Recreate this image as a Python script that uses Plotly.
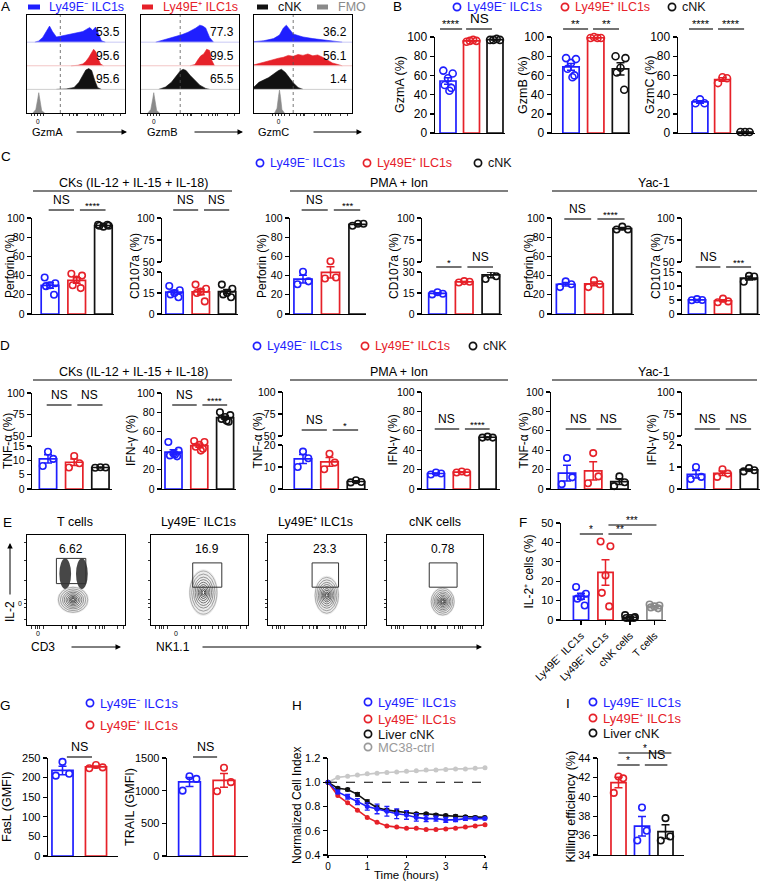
import numpy as np
import plotly.graph_objects as go

# ============================ DATA ============================
# Panel A: histogram outlines (x on display scale 0-1, relative height 0-1)
A1_blue_x = [0.08, 0.12, 0.16, 0.20, 0.23, 0.26, 0.30, 0.34, 0.40, 0.46, 0.52, 0.57, 0.61, 0.64, 0.67, 0.70, 0.73, 0.76, 0.80]
A1_blue_y = [0, 0.05, 0.20, 0.50, 0.68, 0.45, 0.22, 0.25, 0.30, 0.33, 0.40, 0.45, 0.55, 0.62, 0.50, 0.64, 0.35, 0.06, 0]
A1_red_x = [0.45, 0.52, 0.57, 0.60, 0.63, 0.66, 0.68, 0.70, 0.72, 0.75, 0.78]
A1_red_y = [0, 0.02, 0.08, 0.18, 0.35, 0.55, 0.70, 0.60, 0.35, 0.08, 0]
A1_black_x = [0.30, 0.40, 0.48, 0.53, 0.57, 0.60, 0.63, 0.66, 0.69, 0.72, 0.76]
A1_black_y = [0, 0.02, 0.08, 0.30, 0.60, 0.82, 0.88, 0.80, 0.40, 0.08, 0]
A1_fmo_x = [0.06, 0.09, 0.11, 0.12, 0.13, 0.15, 0.18]
A1_fmo_y = [0, 0.15, 0.60, 0.86, 0.60, 0.10, 0]

A2_blue_x = [0.15, 0.22, 0.30, 0.36, 0.42, 0.48, 0.52, 0.56, 0.60, 0.63, 0.66, 0.70, 0.74]
A2_blue_y = [0, 0.08, 0.15, 0.22, 0.32, 0.42, 0.50, 0.60, 0.72, 0.68, 0.60, 0.20, 0]
A2_red_x = [0.50, 0.55, 0.58, 0.61, 0.64, 0.67, 0.70, 0.72, 0.75]
A2_red_y = [0, 0.05, 0.25, 0.42, 0.50, 0.70, 0.65, 0.25, 0]
A2_black_x = [0.18, 0.25, 0.31, 0.36, 0.40, 0.43, 0.46, 0.50, 0.55, 0.60, 0.66, 0.70]
A2_black_y = [0, 0.10, 0.30, 0.55, 0.78, 0.85, 0.80, 0.60, 0.38, 0.18, 0.04, 0]
A2_fmo_x = [0.07, 0.10, 0.12, 0.13, 0.14, 0.16, 0.19]
A2_fmo_y = [0, 0.15, 0.60, 0.86, 0.60, 0.10, 0]

A3_blue_x = [0.0, 0.10, 0.20, 0.26, 0.30, 0.33, 0.36, 0.40, 0.45, 0.50, 0.60, 0.70, 0.80, 0.90]
A3_blue_y = [0.02, 0.06, 0.15, 0.30, 0.60, 0.72, 0.55, 0.35, 0.28, 0.22, 0.15, 0.10, 0.05, 0]
A3_red_x = [0.0, 0.10, 0.20, 0.25, 0.30, 0.35, 0.40, 0.45, 0.50, 0.55, 0.60, 0.65, 0.70, 0.75, 0.80, 0.90]
A3_red_y = [0.04, 0.15, 0.28, 0.32, 0.36, 0.44, 0.40, 0.48, 0.44, 0.50, 0.42, 0.46, 0.36, 0.25, 0.12, 0]
A3_black_x = [0.0, 0.05, 0.10, 0.15, 0.20, 0.25, 0.28, 0.32, 0.36, 0.40, 0.45, 0.50]
A3_black_y = [0.10, 0.30, 0.40, 0.50, 0.65, 0.80, 0.85, 0.72, 0.50, 0.28, 0.08, 0]
A3_fmo_x = [0.21, 0.235, 0.25, 0.26, 0.27, 0.285, 0.31]
A3_fmo_y = [0, 0.20, 0.70, 0.97, 0.70, 0.15, 0]

A_markers = ["GzmA", "GzmB", "GzmC"]
A_pct_1 = ["53.5", "95.6", "95.6"]
A_pct_2 = ["77.3", "99.5", "65.5"]
A_pct_3 = ["36.2", "56.1", "1.4"]
A_gate = [0.34, 0.40, 0.40]
A_zero = [0.11, 0.13, 0.25]

GROUPS = ["Ly49E⁻ ILC1s", "Ly49E⁺ ILC1s", "cNK"]

# Panel B (% positive)
gzmA = [[65, 62, 57, 50, 47, 44], [95, 96, 97, 96], [97, 97, 98, 97]]
gzmB = [[78, 77, 73, 67, 60, 58], [99, 100, 99, 99], [80, 78, 68, 63, 45]]
gzmC = [[35, 31, 31], [58, 57, 52], [1, 1, 1]]

# Panel C
perf_ck = [[38, 32, 30, 29, 20], [42, 40, 36, 30, 27], [93, 92, 91, 92, 93]]
cd107_ck = [[20, 17, 15, 14, 12], [21, 18, 16, 15, 9], [21, 18, 15, 14, 12]]
perf_pma = [[44, 34, 31], [55, 38, 37], [94, 94, 92]]
cd107_pma = [[15.5, 14.5, 14], [23.5, 23, 22.5], [32, 27, 25]]
perf_yac = [[34, 31, 28], [35, 31, 28], [91, 88, 88]]
cd107_yac = [[5.3, 5.0, 4.9], [5.5, 4.5, 4.2], [13.6, 13.4, 11.5]]

# Panel D
tnf_ck = [[13, 10.5, 8], [11.5, 9, 7.5], [7.6, 7.5, 7.4]]
ifn_ck = [[49, 40, 37, 35, 34, 36], [50, 49, 46, 44, 42, 40], [80, 77, 75, 73, 70, 71]]
tnf_pma = [[17, 14, 10], [16, 12, 9], [4, 3.2, 3]]
ifn_pma = [[17, 16, 15], [18, 17, 17], [54, 53, 53]]
tnf_yac = [[32, 12, 5], [37, 13, 6], [13, 7, 3]]
ifn_yac = [[1.0, 0.55, 0.45], [0.9, 0.7, 0.55], [0.95, 0.85, 0.8]]

# Panel E (flow plots, axis units 0-1)
E_titles = ["T cells", "Ly49E⁻ ILC1s", "Ly49E⁺ ILC1s", "cNK cells"]
E_pct = ["6.62", "16.9", "23.3", "0.78"]
E_gate_x0 = [0.30, 0.43, 0.45, 0.44]
E_gate_x1 = [0.60, 0.73, 0.72, 0.73]
E_gate_y0 = [0.46, 0.42, 0.42, 0.42]
E_gate_y1 = [0.74, 0.69, 0.69, 0.69]
E_blob_cx = [0.47, 0.54, 0.60, 0.58]
E_blob_cy = [0.28, 0.36, 0.33, 0.26]
E_blob_rx = [0.15, 0.14, 0.12, 0.12]
E_blob_ry = [0.14, 0.24, 0.20, 0.15]

# Panel F
F_labels = ["Ly49E⁻ ILC1s", "Ly49E⁺ ILC1s", "cNK cells", "T cells"]
il2 = [[17, 13.5, 12, 11, 7.5], [40.5, 38, 23, 14, 7], [2.5, 1.5, 1, 1, 1], [8, 7.5, 7, 6.5, 6]]

# Panel G
fasl = [[240, 210, 205], [232, 226, 224]]
trail = [[1220, 1180, 1000], [1350, 1130, 990]]

# Panel H
H_time = [0, 0.25, 0.5, 0.75, 1.0, 1.25, 1.5, 1.75, 2.0, 2.25, 2.5, 2.75, 3.0, 3.25, 3.5, 3.75, 4.0]
H_ctrl = [1.0, 1.04, 1.05, 1.06, 1.07, 1.075, 1.08, 1.085, 1.09, 1.095, 1.10, 1.10, 1.105, 1.11, 1.11, 1.115, 1.12]
H_cnk = [1.0, 0.95, 0.94, 0.90, 0.84, 0.79, 0.77, 0.76, 0.75, 0.74, 0.74, 0.73, 0.725, 0.72, 0.715, 0.71, 0.71]
H_cnk_err = [0, 0.01, 0.01, 0.015, 0.015, 0.015, 0.01, 0.01, 0.01, 0.01, 0.01, 0.01, 0.01, 0.01, 0.01, 0.01, 0.01]
H_neg = [1.0, 0.92, 0.88, 0.84, 0.80, 0.78, 0.76, 0.74, 0.73, 0.71, 0.70, 0.70, 0.69, 0.69, 0.70, 0.70, 0.70]
H_neg_err = [0, 0.015, 0.02, 0.025, 0.03, 0.04, 0.04, 0.04, 0.035, 0.03, 0.025, 0.02, 0.02, 0.015, 0.015, 0.01, 0.01]
H_pos = [1.0, 0.89, 0.83, 0.77, 0.71, 0.67, 0.64, 0.63, 0.62, 0.62, 0.61, 0.61, 0.615, 0.62, 0.63, 0.64, 0.65]
H_names = ["Ly49E⁻ ILC1s", "Ly49E⁺ ILC1s", "Liver cNK", "MC38-ctrl"]

# Panel I (order: Ly49E+ , Ly49E-, Liver cNK)
kill = [[42.1, 41.9, 40.4], [38.9, 36.5, 35.5], [37.8, 35.9, 35.5]]
I_names = ["Ly49E⁻ ILC1s", "Ly49E⁺ ILC1s", "Liver cNK"]

# ============================ STYLE / HELPERS ============================
W, H = 763, 881
FONT = "Liberation Sans, Arial, sans-serif"
BLUE = "#1f1fff"
RED = "#e62129"
BLACK = "#111111"
GRAY = "#8a8a8a"
C3 = [BLUE, RED, BLACK]
TICK = 10.5
TITLE = 12

traces, shapes, annots = [], [], []
layout = {}
counter = [0]


def X(p):
    return p / W


def Y(p):
    return 1 - p / H


def new_id():
    counter[0] += 1
    return "" if counter[0] == 1 else str(counter[0])


def add_xy(x0, x1, y0, y1, xkw, ykw):
    s = new_id()
    layout["xaxis" + s] = dict(domain=[X(x0), X(x1)], anchor="y" + s, automargin=False, **xkw)
    layout["yaxis" + s] = dict(domain=[Y(y1), Y(y0)], anchor="x" + s, automargin=False, **ykw)
    return "x" + s, "y" + s


def add_y(xref, y0, y1, ykw):
    s = new_id()
    layout["yaxis" + s] = dict(domain=[Y(y1), Y(y0)], anchor=xref, automargin=False, **ykw)
    return "y" + s


def text(xp, yp, s, size=11, color="black", xanchor="center", yanchor="middle", angle=0):
    annots.append(dict(x=X(xp), y=Y(yp), xref="paper", yref="paper", text=s, showarrow=False,
                       font=dict(size=size, color=color, family=FONT), xanchor=xanchor,
                       yanchor=yanchor, textangle=angle))


def hline(x0, x1, y, color="black", width=1.2, dash=None):
    shapes.append(dict(type="line", xref="paper", yref="paper", x0=X(x0), x1=X(x1), y0=Y(y), y1=Y(y),
                       line=dict(color=color, width=width, dash=dash)))


def arrow(x_head, y_head, x_tail, y_tail):
    annots.append(dict(x=X(x_head), y=Y(y_head), xref="paper", yref="paper", text="", showarrow=True,
                       ax=x_tail - x_head, ay=y_tail - y_head, arrowhead=2, arrowsize=1.1,
                       arrowwidth=1, arrowcolor="black"))


def legend_circle(cx, cy, color, label, size=12.5):
    r = 3.6
    shapes.append(dict(type="circle", xref="paper", yref="paper", x0=X(cx - r), x1=X(cx + r),
                       y0=Y(cy + r), y1=Y(cy - r), line=dict(color=color, width=1.7)))
    text(cx + 8, cy, label, size, color, xanchor="left")


def letter(xp, yp, s):
    text(xp, yp, s, 13.5)


def yaxis_kw(rng, ticks, fs, fmt=None):
    d = dict(range=rng, tickvals=ticks, showline=True, linecolor="black", linewidth=1.4,
             ticks="outside", ticklen=4, tickwidth=1.4, tickcolor="black",
             showgrid=False, zeroline=False, fixedrange=True,
             tickfont=dict(size=fs, family=FONT, color="black"))
    if fmt:
        d["tickformat"] = fmt
    return d


JIT = {2: [-0.15, 0.15], 3: [0.0, 0.2, -0.2], 4: [-0.21, -0.07, 0.07, 0.21],
       5: [-0.2, 0.2, 0.0, -0.15, 0.15], 6: [-0.2, 0.2, 0.0, -0.14, 0.14, 0.06]}


def bar_panel(ax_x, c0, sp, right, ytop, ybot, groups, colors, yrange, yticks, fs, ytitle, title_x,
              sigs, broken=None, xlabels=None, title_fs=TITLE, bw=0.66, msize=6.5, fmt=None):
    xr = [(ax_x - c0) / sp, (right - c0) / sp]
    n = len(groups)
    xkw = dict(range=xr, showline=True, linecolor="black", linewidth=1.4, showgrid=False, zeroline=False,
               ticks="", showticklabels=False, fixedrange=True)
    if xlabels:
        xkw.update(tickvals=list(range(n)), ticktext=xlabels, showticklabels=True, tickangle=-45,
                   tickfont=dict(size=fs - 0.5, family=FONT, color="black"), ticks="outside", ticklen=4,
                   tickwidth=1.4, tickcolor="black")
    low_top = broken["low_top"] if broken else ytop
    xa, ya = add_xy(ax_x, right, low_top, ybot, xkw, yaxis_kw(yrange, yticks, fs, fmt))
    if broken:
        yu = add_y(xa, ytop, broken["up_bot"], yaxis_kw(broken["range"], broken["ticks"], fs))
        traces.append(go.Scatter(x=[xr[0]], y=[broken["range"][0]], xaxis=xa, yaxis=yu, mode="markers",
                                 marker=dict(opacity=0), hoverinfo="skip"))
    means = [float(np.mean(g)) for g in groups]
    sems = [float(np.std(g, ddof=1) / np.sqrt(len(g))) for g in groups]
    traces.append(go.Bar(x=list(range(n)), y=means, width=bw, xaxis=xa, yaxis=ya,
                         marker=dict(color="white", line=dict(color=colors, width=1.7))))
    for i, (g, c) in enumerate(zip(groups, colors)):
        traces.append(go.Scatter(x=[i], y=[means[i]], mode="markers", marker=dict(size=2, color=c),
                                 error_y=dict(type="data", array=[sems[i]], color=c, thickness=1.5, width=4),
                                 xaxis=xa, yaxis=ya, cliponaxis=False))
        off = JIT[len(g)]
        traces.append(go.Scatter(x=[i + o for o in off], y=g, mode="markers", cliponaxis=False,
                                 marker=dict(symbol="circle-open", size=msize, color=c, line=dict(width=1.6, color=c)),
                                 xaxis=xa, yaxis=ya))
    for sg in sigs:
        i, j, s, yl = sg[:4]
        if len(sg) > 4:
            x0, x1 = sg[4], sg[5]
        else:
            x0 = i - 0.05 if i == 0 else i + 0.12
            x1 = j - 0.1 if i == 0 else j + 0.08
        shapes.append(dict(type="line", xref=xa, yref="paper", x0=x0, x1=x1, y0=Y(yl), y1=Y(yl),
                           line=dict(color="black", width=1.1)))
        if s == "NS":
            annots.append(dict(xref=xa, yref="paper", x=(x0 + x1) / 2, y=Y(yl - 1), text=s, showarrow=False,
                               yanchor="bottom", font=dict(size=fs + 1.5, family=FONT, color="black")))
        else:
            annots.append(dict(xref=xa, yref="paper", x=(x0 + x1) / 2, y=Y(yl + 3), text=s, showarrow=False,
                               yanchor="bottom", font=dict(size=fs - 1, family=FONT, color="black")))
    text(title_x, (ytop + ybot) / 2, ytitle, title_fs, angle=-90)
    return xa, ya


# ============================ PANEL A ============================
letter(6, 7, "A")
for (x0, x1), col in zip([(28, 40), (142, 153), (257, 268), (317, 328)], [BLUE, RED, BLACK, GRAY]):
    shapes.append(dict(type="rect", xref="paper", yref="paper", x0=X(x0), x1=X(x1), y0=Y(9.5), y1=Y(4.5),
                       fillcolor=col, line=dict(width=0)))
text(47, 7, "Ly49E⁻ ILC1s", 12.5, BLUE, xanchor="left")
text(161, 7, "Ly49E⁺ ILC1s", 12.5, RED, xanchor="left")
text(276, 7, "cNK", 12.5, BLACK, xanchor="left")
text(336, 7, "FMO", 12.5, GRAY, xanchor="left")

A_curves = [
    [(A1_blue_x, A1_blue_y), (A1_red_x, A1_red_y), (A1_black_x, A1_black_y), (A1_fmo_x, A1_fmo_y)],
    [(A2_blue_x, A2_blue_y), (A2_red_x, A2_red_y), (A2_black_x, A2_black_y), (A2_fmo_x, A2_fmo_y)],
    [(A3_blue_x, A3_blue_y), (A3_red_x, A3_red_y), (A3_black_x, A3_black_y), (A3_fmo_x, A3_fmo_y)],
]
A_pcts = [A_pct_1, A_pct_2, A_pct_3]
A_boxes = [(27, 125), (141, 239), (254, 352)]
A_label_pos = [(47, 75, 127), (162, 193, 243), (273, 312, 362)]
base_cols = ["#c9c9f5", "#f3c6c6", "#cfcfcf"]
tick_pattern = [-0.06, -0.03, 0.0, 0.03, 0.06]
for k in range(3):
    bx0, bx1 = A_boxes[k]
    z = A_zero[k]
    tv = [z + t for t in tick_pattern] + [0.36, 0.43, 0.47, 0.50, 0.52, 0.62, 0.69, 0.73, 0.76, 0.78, 0.88, 0.95]
    tt = ["0" if abs(t) < 1e-9 else "" for t in tick_pattern] + [""] * 12
    xa, ya = add_xy(bx0, bx1, 15, 113,
                    dict(range=[0, 1], showline=True, mirror=True, linecolor="black", linewidth=1,
                         showgrid=False, zeroline=False, ticks="outside", ticklen=2, tickwidth=0.8,
                         tickcolor="black", tickvals=tv, ticktext=tt, fixedrange=True,
                         tickfont=dict(size=6.5, family=FONT, color="black")),
                    dict(range=[0, 4.15], showline=True, mirror=True, linecolor="black", linewidth=1,
                         showgrid=False, zeroline=False, showticklabels=False, ticks="", fixedrange=True))
    for row, ((cx, cy), col) in enumerate(zip(A_curves[k], [BLUE, RED, BLACK, GRAY])):
        base = 3 - row
        traces.append(go.Scatter(x=[cx[0]] + list(cx) + [cx[-1]], y=[base] + [base + v for v in cy] + [base],
                                 fill="toself", fillcolor=col, mode="lines", line=dict(color=col, width=0.6),
                                 xaxis=xa, yaxis=ya, hoverinfo="skip"))
        if row < 3:
            shapes.append(dict(type="line", xref=xa, yref=ya, x0=0, x1=1, y0=base, y1=base,
                               line=dict(color=base_cols[row], width=1)))
            annots.append(dict(xref=xa, yref=ya, x=0.97, y=base + 0.42, text=A_pcts[k][row], showarrow=False,
                               xanchor="right", font=dict(size=12, family=FONT, color="black")))
    shapes.append(dict(type="line", xref=xa, yref=ya, x0=A_gate[k], x1=A_gate[k], y0=0, y1=4.15,
                       line=dict(color="#555555", width=0.8, dash="dot")))
    lx, a0, a1 = A_label_pos[k]
    text(lx, 132, A_markers[k], 11)
    arrow(a1, 132, a0, 132)

# ============================ PANEL B ============================
letter(397, 7, "B")
legend_circle(457, 7, BLUE, GROUPS[0])
legend_circle(565, 7, RED, GROUPS[1])
legend_circle(672, 7, BLACK, GROUPS[2])
B_ticks = [0, 20, 40, 60, 80, 100]
bar_panel(435, 448, 23.5, 505, 37, 133, gzmA, C3, [0, 100], B_ticks, 12, "GzmA (%)", 400,
          [(0, 1, "****", 29, -0.34, 0.6), (1, 2, "NS", 29, 0.77, 1.87)], title_fs=12.5, bw=0.68, msize=7)
bar_panel(552, 571, 24.75, 630, 37, 133, gzmB, C3, [0, 100], B_ticks, 12, "GzmB (%)", 523,
          [(0, 1, "**", 29, -0.32, 0.69), (1, 2, "**", 29, 0.89, 1.94)], title_fs=12.5, bw=0.66, msize=7)
bar_panel(678, 700, 22.5, 755, 37, 133, gzmC, C3, [0, 100], B_ticks, 12, "GzmC (%)", 650,
          [(0, 1, "****", 29, -0.49, 0.58), (1, 2, "****", 29, 0.8, 1.96)], title_fs=12.5, bw=0.7, msize=7)

# ============================ PANEL C ============================
letter(6, 156, "C")
legend_circle(260, 163, BLUE, GROUPS[0])
legend_circle(367, 163, RED, GROUPS[1])
legend_circle(478, 163, BLACK, GROUPS[2])
for hy, ly in [(183, 191), (372, 380)]:
    text(133, hy, "CKs (IL-12 + IL-15 + IL-18)", 12.5)
    hline(33, 232, ly)
    text(399, hy, "PMA + Ion", 12.5)
    hline(290, 508, ly)
    text(654, hy, "Yac-1", 12.5)
    hline(552, 757, ly)

P_ticks = [0, 20, 40, 60, 80, 100]
bar_panel(32, 50, 26.7, 114, 218, 314, perf_ck, C3, [0, 100], P_ticks, TICK, "Perforin (%)", 10,
          [(0, 1, "NS", 210), (1, 2, "****", 210)])
bar_panel(162, 174.5, 26.3, 238, 218, 314, cd107_ck, C3, [0, 30], [0, 15, 30], TICK, "CD107a (%)", 135,
          [(0, 1, "NS", 210), (1, 2, "NS", 210)],
          broken=dict(low_top=272, up_bot=262, range=[50, 100], ticks=[50, 75, 100]))
bar_panel(290, 303, 27.5, 366, 218, 314, perf_pma, C3, [0, 100], P_ticks, TICK, "Perforin (%)", 262,
          [(0, 1, "NS", 210), (1, 2, "***", 210)])
bar_panel(422, 437.5, 26.7, 502, 218, 314, cd107_pma, C3, [0, 30], [0, 15, 30], TICK, "CD107a (%)", 394,
          [(0, 1, "*", 267), (1, 2, "NS", 267)],
          broken=dict(low_top=272, up_bot=262, range=[50, 100], ticks=[50, 75, 100]))
bar_panel(552, 565.7, 28.3, 634, 218, 314, perf_yac, C3, [0, 100], P_ticks, TICK, "Perforin (%)", 529,
          [(0, 1, "NS", 219), (1, 2, "****", 219)])
bar_panel(682, 697, 26, 760, 218, 314, cd107_yac, C3, [0, 15], [0, 5, 10, 15], TICK, "CD107a (%)", 656,
          [(0, 1, "NS", 267), (1, 2, "***", 267)],
          broken=dict(low_top=272, up_bot=262, range=[50, 100], ticks=[50, 75, 100]))

# ============================ PANEL D ============================
letter(5, 345, "D")
legend_circle(257, 346, BLUE, GROUPS[0])
legend_circle(365, 346, RED, GROUPS[1])
legend_circle(473, 346, BLACK, GROUPS[2])
bar_panel(32, 48, 26.2, 112, 393, 489, tnf_ck, C3, [0, 15], [0, 5, 10, 15], TICK, "TNF-α (%)", 8,
          [(0, 1, "NS", 405), (1, 2, "NS", 405)],
          broken=dict(low_top=446, up_bot=436.5, range=[50, 100], ticks=[50, 75, 100]))
bar_panel(162, 173.5, 25.8, 236, 393, 489, ifn_ck, C3, [0, 100], P_ticks, TICK, "IFN-γ (%)", 131,
          [(0, 1, "NS", 405), (1, 2, "****", 405)])
bar_panel(283, 303, 26.5, 368, 392, 489, tnf_pma, C3, [0, 20], [0, 10, 20], TICK, "TNF-α (%)", 257,
          [(0, 1, "NS", 430), (1, 2, "*", 430)],
          broken=dict(low_top=445, up_bot=436, range=[50, 100], ticks=[50, 75, 100]))
bar_panel(422, 436, 25.8, 500, 392, 489, ifn_pma, C3, [0, 100], P_ticks, TICK, "IFN-γ (%)", 392,
          [(0, 1, "NS", 429), (1, 2, "****", 429)])
bar_panel(551, 567, 26.2, 631, 392, 489, tnf_yac, C3, [0, 100], P_ticks, TICK, "TNF-α (%)", 523,
          [(0, 1, "NS", 429), (1, 2, "NS", 429)])
bar_panel(682, 696, 26.5, 760, 392, 489, ifn_yac, C3, [0, 2], [0, 1, 2], TICK, "IFN-γ (%)", 651,
          [(0, 1, "NS", 429), (1, 2, "NS", 429)],
          broken=dict(low_top=445, up_bot=436, range=[50, 100], ticks=[50, 75, 100]))

# ============================ PANEL E ============================
letter(7, 522, "E")
E_boxes = [(27, 125), (151, 248), (268, 366), (387, 483)]
E_title_x = [75, 198, 315, 435]
levels = [1.0, 0.86, 0.72, 0.6, 0.48, 0.37, 0.27, 0.18, 0.1]
lev_cols = ["#9a9a9a", "#8a8a8a", "#7a7a7a", "#6a6a6a", "#5a5a5a", "#4a4a4a", "#3a3a3a", "#2a2a2a", "#1a1a1a"]
for k in range(4):
    bx0, bx1 = E_boxes[k]
    xa, ya = add_xy(bx0, bx1, 535, 625,
                    dict(range=[0, 1], showline=True, mirror=True, linecolor="black", linewidth=1,
                         showgrid=False, zeroline=False, ticks="outside", ticklen=2.5, tickwidth=0.8,
                         tickcolor="black", showticklabels=False, fixedrange=True,
                         tickvals=[0.05, 0.09, 0.11, 0.13, 0.17, 0.35, 0.42, 0.46, 0.49, 0.51, 0.63, 0.7, 0.74, 0.77, 0.79, 0.92, 0.98]),
                    dict(range=[0, 1], showline=True, mirror=True, linecolor="black", linewidth=1,
                         showgrid=False, zeroline=False, ticks="outside", ticklen=2.5, tickwidth=0.8,
                         tickcolor="black", showticklabels=False, fixedrange=True,
                         tickvals=[0.06, 0.2, 0.24, 0.28, 0.5, 0.72, 0.92]))
    cx, cy, rx, ry = E_blob_cx[k], E_blob_cy[k], E_blob_rx[k], E_blob_ry[k]
    shapes.append(dict(type="circle", xref=xa, yref=ya, x0=cx - rx * 1.08, x1=cx + rx * 1.08,
                       y0=cy - ry * 1.08, y1=cy + ry * 1.08, fillcolor="#ececec", line=dict(width=0), layer="below"))
    if k == 0:
        for ax_c in [0.39, 0.56]:
            shapes.append(dict(type="circle", xref=xa, yref=ya, x0=ax_c - 0.06, x1=ax_c + 0.06,
                               y0=0.40, y1=0.74, fillcolor="rgba(0,0,0,0.72)", line=dict(width=0)))
    for s, lc in zip(levels, lev_cols):
        shapes.append(dict(type="circle", xref=xa, yref=ya, x0=cx - rx * s, x1=cx + rx * s,
                           y0=cy - ry * s, y1=cy + ry * s, line=dict(color=lc, width=0.8)))
    shapes.append(dict(type="rect", xref=xa, yref=ya, x0=E_gate_x0[k], x1=E_gate_x1[k],
                       y0=E_gate_y0[k], y1=E_gate_y1[k], line=dict(color="#333333", width=1)))
    annots.append(dict(xref=xa, yref=ya, x=(E_gate_x0[k] + E_gate_x1[k]) / 2, y=0.84, text=E_pct[k],
                       showarrow=False, font=dict(size=12, family=FONT, color="black")))
    text(E_title_x[k], 522, E_titles[k], 12.5)
text(38, 633, "0", 7)
text(176, 633, "0", 7)
text(20, 603, "0", 7)
text(10, 612, "IL-2", 12, angle=-90)
arrow(10, 543, 10, 596)
text(43, 647, "CD3", 12)
arrow(121, 647, 70, 647)
text(173, 647, "NK1.1", 12)
arrow(482, 647, 201, 647)

# ============================ PANEL F ============================
letter(523, 522, "F")
bar_panel(561, 581, 24.5, 666, 523, 620, il2, [BLUE, RED, BLACK, GRAY], [0, 50], [0, 10, 20, 30, 40, 50],
          11, "IL-2⁺ cells (%)", 528, [(0, 1, "*", 534), (1, 2, "**", 534), (1, 3, "***", 525)],
          xlabels=F_labels, bw=0.62, title_fs=12)

# ============================ PANEL G ============================
letter(6, 705, "G")
legend_circle(90, 703, BLUE, GROUPS[0], 13)
legend_circle(90, 725, RED, GROUPS[1], 13)
bar_panel(48, 62.5, 33.5, 118, 758, 856, fasl, [BLUE, RED], [0, 250], [0, 50, 100, 150, 200, 250], 11,
          "FasL (GMFI)", 7, [(0, 1, "NS", 757, 0.13, 0.88)], bw=0.63, title_fs=12.5)
bar_panel(167, 189.5, 34.5, 248, 758, 856, trail, [BLUE, RED], [0, 1500], [0, 500, 1000, 1500], 11,
          "TRAIL (GMFI)", 130, [(0, 1, "NS", 757, 0.1, 0.8)], bw=0.63, title_fs=12.5)

# ============================ PANEL H ============================
letter(297, 705, "H")
for yy, col, nm in zip([702, 719, 734, 747], [BLUE, RED, BLACK, "#9a9a9a"], H_names):
    legend_circle(368, yy, col, nm, 13)
xa, ya = add_xy(328, 485, 758, 855,
                dict(range=[0, 4], tickvals=[0, 1, 2, 3, 4], showline=True, linecolor="black", linewidth=1.4,
                     ticks="outside", ticklen=2, tickwidth=1.4, tickcolor="black", showgrid=False, zeroline=False,
                     fixedrange=True, tickfont=dict(size=10, family=FONT, color="black")),
                yaxis_kw([0.4, 1.2], [0.4, 0.6, 0.8, 1.0, 1.2], 11, ".1f"))
shapes.append(dict(type="line", xref=xa, yref=ya, x0=0, x1=4, y0=1.0, y1=1.0,
                   line=dict(color="black", width=1.2, dash="dash")))
for yv, err, col in [(H_ctrl, None, "#c8c8c8"), (H_pos, None, RED), (H_cnk, H_cnk_err, BLACK), (H_neg, H_neg_err, BLUE)]:
    tr = dict(x=H_time, y=yv, mode="lines+markers", line=dict(color=col, width=1.6),
              marker=dict(size=5, color=col), xaxis=xa, yaxis=ya, cliponaxis=False)
    if err is not None:
        tr["error_y"] = dict(type="data", array=err, color=col, thickness=1.3, width=2.5)
    traces.append(go.Scatter(**tr))
text(297, 806, "Normalized Cell Index", 12, angle=-90)
text(406, 875, "Time (hours)", 11.5)

# ============================ PANEL I ============================
letter(568, 703, "I")
legend_circle(593, 702, BLUE, I_names[0], 13)
legend_circle(593, 718, RED, I_names[1], 13)
legend_circle(593, 733, BLACK, I_names[2], 13)
bar_panel(598, 618.5, 23.5, 684, 758, 855, kill, [RED, BLUE, BLACK], [34, 44], [34, 36, 38, 40, 42, 44], 11,
          "Killing efficiency (%)", 570, [(0, 1, "*", 765), (1, 2, "NS", 765), (0, 2, "*", 753, 0.0, 2.25)],
          bw=0.64, title_fs=12.5)

# ============================ BUILD ============================
layout.update(width=W, height=H, margin=dict(l=0, r=0, t=0, b=0, autoexpand=False), paper_bgcolor="white",
              plot_bgcolor="rgba(0,0,0,0)", showlegend=False, shapes=shapes, annotations=annots,
              font=dict(family=FONT, color="black"), bargap=0, template="none")
fig = go.Figure(data=traces, layout=layout)
fig.write_html("out.html", config={"displayModeBar": False, "staticPlot": True},
               post_script="document.body.style.margin='0px';document.body.style.padding='0px';")
